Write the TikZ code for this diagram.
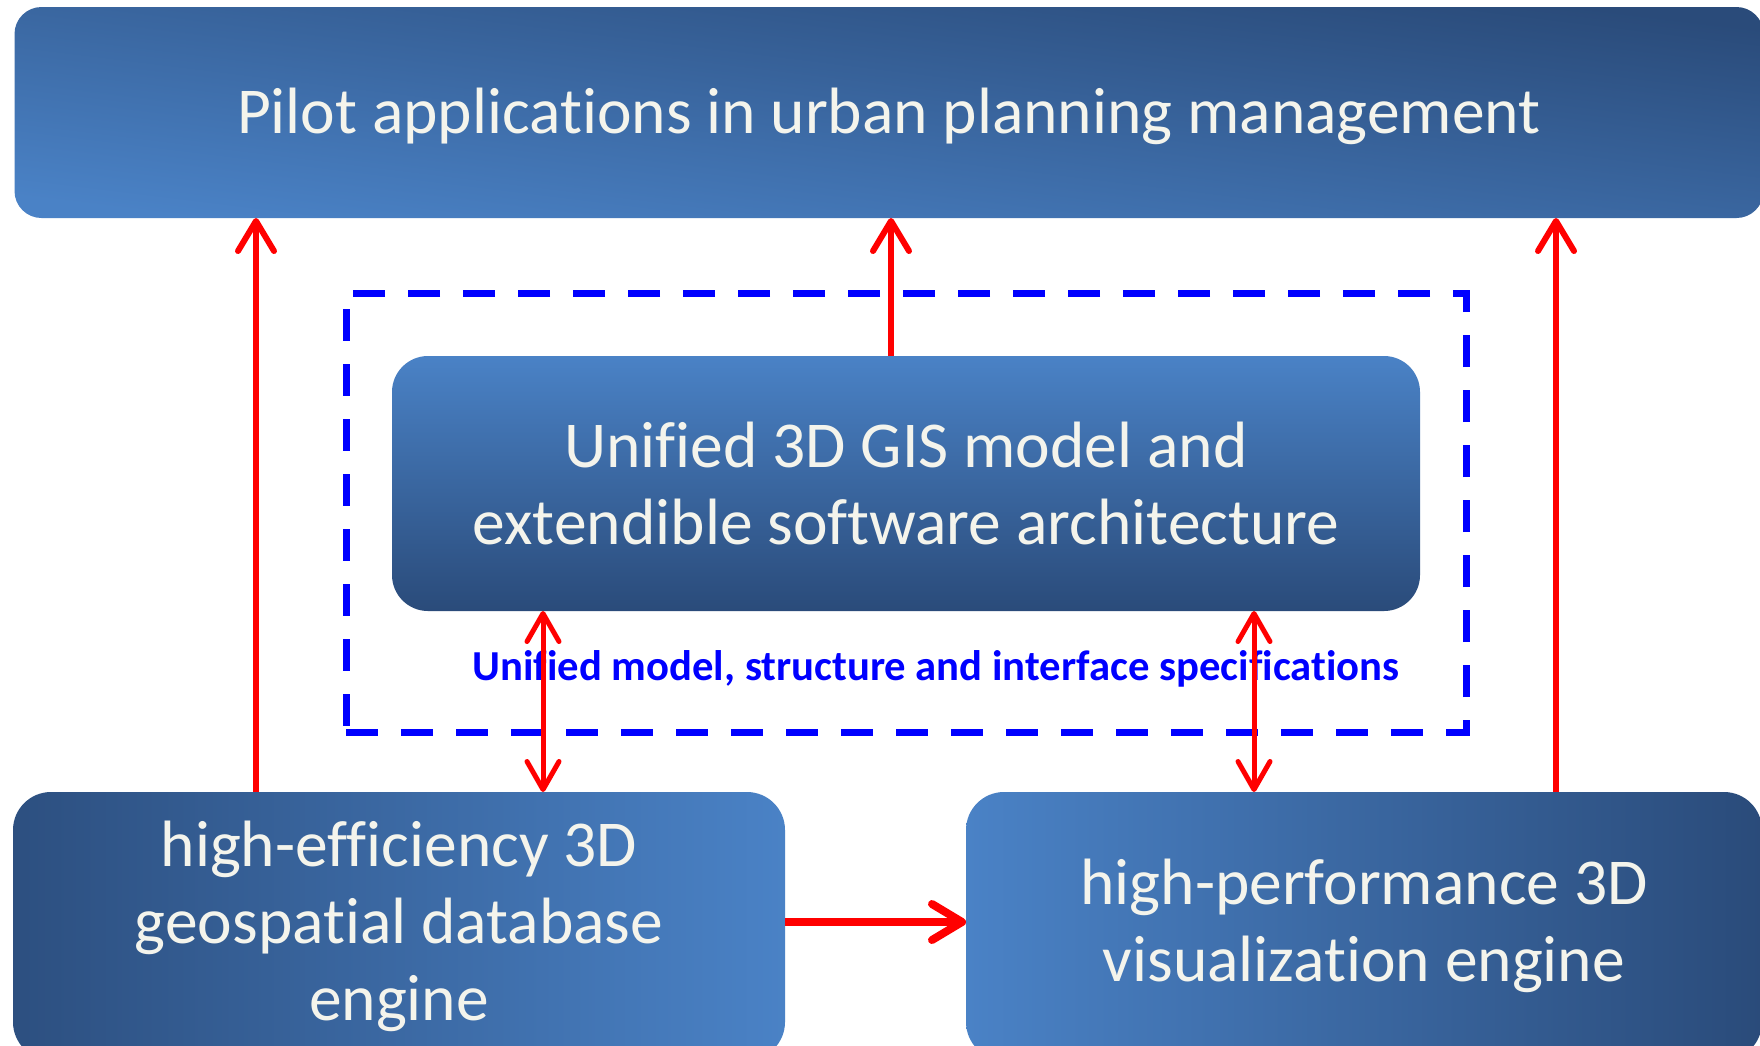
\documentclass[tikz,border=0pt]{standalone}
\usepackage{fontspec}
\setmainfont{Carlito}[Ligatures=NoCommon]
\usetikzlibrary{arrows.meta}
\definecolor{lightb}{HTML}{4A82C6}
\definecolor{darkb}{HTML}{2A4B7A}
\definecolor{txtw}{HTML}{F4F4EC}
\definecolor{arrred}{HTML}{FF0000}
\definecolor{specblue}{HTML}{0000FF}
\tikzset{
  box/.style={rectangle, inner sep=0pt, outer sep=0pt, text=txtw,
    font=\fontsize{65.5}{77}\selectfont, align=center},
  upar/.style={draw=arrred, line width=6pt,
    -{Straight Barb[length=30pt, width=36pt, round]}},
  dblar/.style={draw=arrred, line width=5pt,
    {Straight Barb[length=28pt, width=32pt, round]}-{Straight Barb[length=28pt, width=32pt, round]}},
  frame/.style={draw=specblue, line width=7pt, dash pattern=on 32pt off 23pt,
    rectangle, inner sep=0pt, outer sep=0pt}
}
\begin{document}
\begin{tikzpicture}[x=1pt,y=-1pt]
\clip (0,0) rectangle (1760,1045);
\fill[white] (0,0) rectangle (1760,1045);

% boxes
\node[box, minimum width=1749pt, minimum height=211pt, rounded corners=27pt,
  top color=darkb, bottom color=lightb, shading angle=-7,
  text height=46pt, text depth=5pt] (top) at (889,112.5)
  {Pilot applications in urban planning management};

\node[frame, minimum width=1120pt, minimum height=439pt] (frm) at (906,512.5) {};

\node[box, minimum width=1028pt, minimum height=255pt, rounded corners=36pt,
  top color=lightb, bottom color=darkb] (core) at (906,483.5)
  {Unified 3D GIS model and\\extendible software architecture};

\node[box, minimum width=772pt, minimum height=268pt, rounded corners=38pt,
  left color=darkb!92!lightb, right color=lightb] (bl) at (399,926)
  {high-efficiency 3D\\geospatial database\\engine};

\node[box, minimum width=796pt, minimum height=268pt, rounded corners=38pt,
  left color=lightb, right color=darkb] (br) at (1364,926)
  {high-performance 3D\\visualization engine};

\node[anchor=base, inner sep=0pt, text=specblue,
  font=\bfseries\fontsize{42.7}{50}\selectfont] (spec) at (936,680)
  {Unified model, structure and interface specifications};

% connector x positions
\coordinate (xl) at (256,0);
\coordinate (xm) at (891,0);
\coordinate (xr) at (1556,0);
\coordinate (xa) at (543,0);
\coordinate (xb) at (1254,0);

% connectors
\draw[upar] (bl.north -| xl) -- (top.south -| xl);
\draw[upar] (core.north -| xm) -- (top.south -| xm);
\draw[upar] (br.north -| xr) -- (top.south -| xr);
\draw[upar, line width=8pt] ([yshift=4pt]bl.east) -- ([yshift=4pt]br.west);
\draw[dblar] (core.south -| xa) -- (bl.north -| xa);
\draw[dblar] (core.south -| xb) -- (br.north -| xb);
\end{tikzpicture}
\end{document}
